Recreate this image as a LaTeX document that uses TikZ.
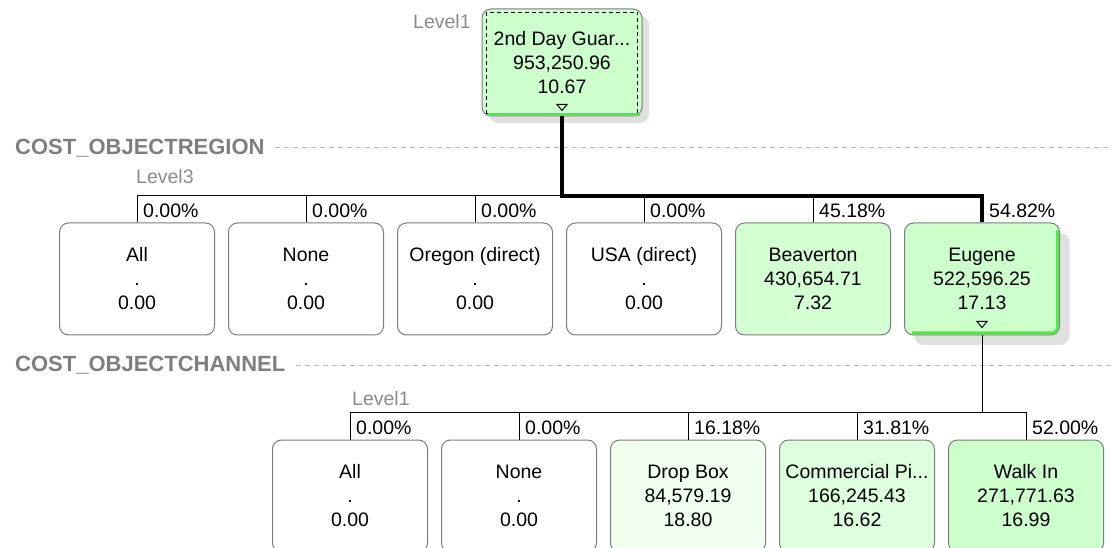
\documentclass[tikz,border=0pt]{standalone}
\usepackage{fontspec}
\setmainfont{Liberation Sans}
\usetikzlibrary{calc,shadows}

\definecolor{boxgray}{HTML}{7C7C7C}
\definecolor{hotfill}{HTML}{CCFFCC}
\definecolor{beavfill}{HTML}{D3FFD3}
\definecolor{dropfill}{HTML}{F0FFF0}
\definecolor{commfill}{HTML}{DDFFDD}
\definecolor{edgegreen}{HTML}{4CEB4C}
\definecolor{shadowc}{HTML}{E0E0E0}
\definecolor{lvlgray}{HTML}{8A8A8A}
\definecolor{dimgray}{HTML}{7E7E7E}
\definecolor{sepgray}{HTML}{B8B8B8}

\begin{document}
\begin{tikzpicture}[x=1pt,y=-1pt,
  every node/.style={inner sep=0pt},
  basefont/.style={font=\fontsize{19.5}{24}\selectfont},
  cell/.style={basefont, draw=boxgray, line width=1pt, rounded corners=9pt,
    minimum width=155pt, minimum height=112pt, align=center, fill=white},
  raised/.style={drop shadow={shadow xshift=#1, shadow yshift=-#1,
    fill=shadowc, opacity=1}},
  pct/.style={basefont, anchor=west},
  lvl/.style={basefont, anchor=west, text=lvlgray},
  dim/.style={anchor=west, text=dimgray, font=\bfseries\fontsize{22}{24}\selectfont},
  sep/.style={draw=sepgray, line width=1pt, dash pattern=on 5pt off 4pt},
  conn/.style={draw=black, line width=1pt},
  hotpath/.style={draw=black, line width=4.5pt},
  hiedge/.style={draw=edgegreen, line width=3pt},
  focus/.style={draw=black, line width=1.3pt, dash pattern=on 4pt off 3pt},
  tri/.style={draw=black, line width=1pt, line join=miter}
]
\useasboundingbox (0,0) rectangle (1112,548);
\clip (0,0) rectangle (1112,548);

% dimension captions with dashed separators
\coordinate (edge) at (1112,0);
\coordinate (bar1) at (0,196);
\coordinate (bar2) at (0,412);
\node[dim] (reg) at (15,148) {COST\_OBJECTREGION};
\node[dim] (chan) at (15,365) {COST\_OBJECTCHANNEL};
\draw[sep] ([xshift=10pt]reg.east) -- (reg.east -| edge);
\draw[sep] ([xshift=10pt]chan.east) -- (chan.east -| edge);

% root member
\node[lvl] (lvtop) at (413,22) {Level1};
\node[cell, raised=7pt, fill=hotfill, minimum width=160pt, minimum height=107pt]
  (top) at (562,62.5) {2nd Day Guar...\\953,250.96\\10.67};
\draw[focus] ($(top.north west)+(5,4)$) rectangle ($(top.south east)+(-5,-3)$);
\draw[hiedge] ($(top.south west)+(6,-1.5)$) -- ($(top.south east)+(-3,-1.5)$);
\draw[tri] ($(top.south)+(-5,-12)$) -- ++(10,0) -- ++(-5,6) -- cycle;

% region level
\node[lvl] (lv3) at (136,177) {Level3};
\node[cell] (all1) at (137,279) {All\\.\\0.00};
\node[cell] (none1) at (306,279) {None\\.\\0.00};
\node[cell] (ore) at (475,279) {Oregon (direct)\\.\\0.00};
\node[cell] (usa) at (644,279) {USA (direct)\\.\\0.00};
\node[cell, fill=beavfill] (bea) at (813,279) {Beaverton\\430,654.71\\7.32};
\node[cell, raised=10pt, fill=hotfill] (eug) at (982,279) {Eugene\\522,596.25\\17.13};
\draw[hiedge, rounded corners=6pt] ($(eug.north east)+(-2.5,8)$)
  -- ($(eug.south east)+(-2.5,-2.5)$) -- ($(eug.south west)+(8,-2.5)$);
\draw[tri] ($(eug.south)+(-5,-14)$) -- ++(10,0) -- ++(-5,6) -- cycle;

\draw[conn] (all1.north |- bar1) -- (eug.north |- bar1);
\foreach \n in {all1,none1,ore,usa,bea}
  \draw[conn] (\n.north) -- (\n.north |- bar1);
\draw[hotpath] (top.south) -- (top.south |- bar1) -| (eug.north);

\node[pct] (p11) at (143,211) {0.00\%};
\node[pct] (p12) at (312,211) {0.00\%};
\node[pct] (p13) at (481,211) {0.00\%};
\node[pct] (p14) at (650,211) {0.00\%};
\node[pct] (p15) at (819,211) {45.18\%};
\node[pct] (p16) at (989,211) {54.82\%};

% channel level
\node[lvl] (lv1) at (352,399) {Level1};
\node[cell] (all2) at (350,496) {All\\.\\0.00};
\node[cell] (none2) at (519,496) {None\\.\\0.00};
\node[cell, fill=dropfill] (drop) at (688,496) {Drop Box\\84,579.19\\18.80};
\node[cell, fill=commfill] (comm) at (857,496) {Commercial Pi...\\166,245.43\\16.62};
\node[cell, fill=hotfill] (walk) at (1026,496) {Walk In\\271,771.63\\16.99};

\draw[conn] (eug.south) -- (eug.south |- bar2);
\draw[conn] (all2.north |- bar2) -- (walk.north |- bar2);
\foreach \n in {all2,none2,drop,comm,walk}
  \draw[conn] (\n.north) -- (\n.north |- bar2);

\node[pct] (p21) at (356,427.5) {0.00\%};
\node[pct] (p22) at (525,427.5) {0.00\%};
\node[pct] (p23) at (694,427.5) {16.18\%};
\node[pct] (p24) at (863,427.5) {31.81\%};
\node[pct] (p25) at (1032,427.5) {52.00\%};
\end{tikzpicture}
\end{document}
